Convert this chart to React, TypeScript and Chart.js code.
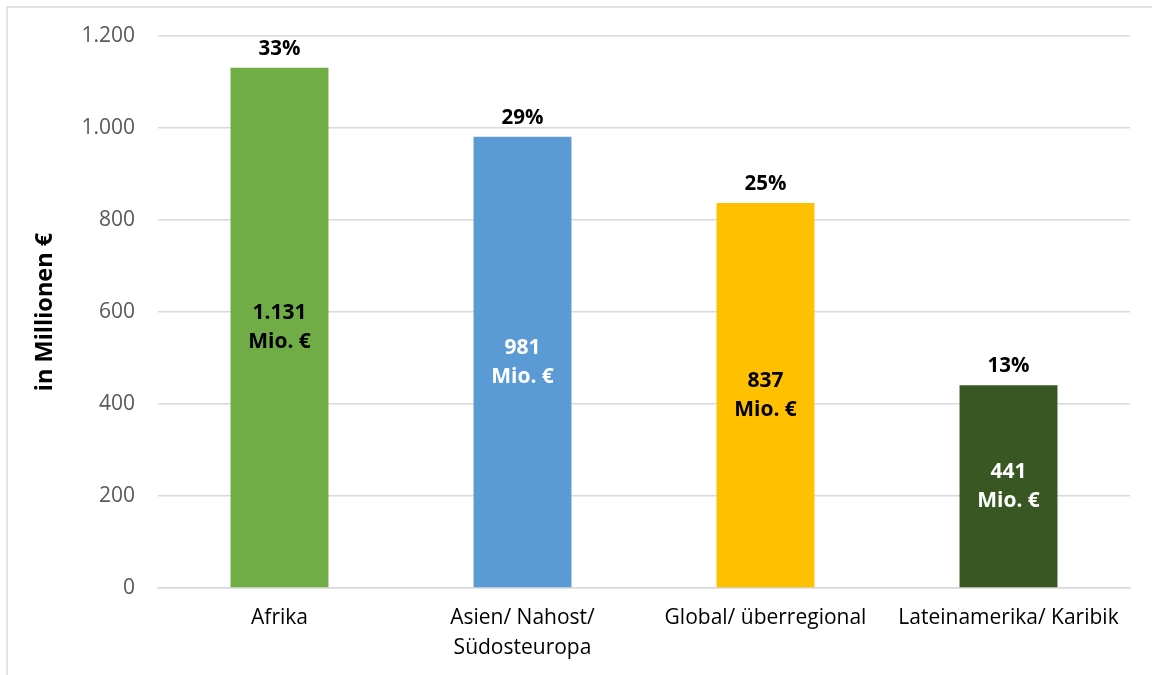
import React, { useEffect, useRef } from "react";
import { Chart, registerables } from "chart.js";

Chart.register(...registerables);

const categories: string[][] = [
  ["Afrika"],
  ["Asien/ Nahost/", "Südosteuropa"],
  ["Global/ überregional"],
  ["Lateinamerika/ Karibik"],
];
const values: number[] = [1131, 981, 837, 441];
const valueLabels: string[] = ["1.131", "981", "837", "441"];
const shareLabels: string[] = ["33%", "29%", "25%", "13%"];
const barColors: string[] = ["#70AD47", "#5B9BD5", "#FFC000", "#385723"];
const innerLabelColors: string[] = ["#000000", "#FFFFFF", "#000000", "#FFFFFF"];
const yAxisTitle = "in Millionen €";
const unitLabel = "Mio. €";
const yMax = 1200;
const yStep = 200;

const FONT = "'Open Sans', 'DejaVu Sans', sans-serif";

function formatDe(v: number): string {
  return String(Math.round(v)).replace(/\B(?=(\d{3})+(?!\d))/g, ".");
}

const decorPlugin = {
  id: "decor",
  beforeDraw(chart: any) {
    const ctx = chart.ctx;
    ctx.save();
    ctx.fillStyle = "#FFFFFF";
    ctx.fillRect(0, 0, chart.width, chart.height);
    ctx.strokeStyle = "#D9D9D9";
    ctx.lineWidth = 1.5;
    ctx.strokeRect(7, 7, chart.width + 20, chart.height + 20);
    ctx.restore();
  },
  afterDatasetsDraw(chart: any) {
    const ctx = chart.ctx;
    const meta = chart.getDatasetMeta(0);
    ctx.save();
    ctx.textAlign = "center";
    ctx.textBaseline = "middle";
    meta.data.forEach((bar: any, i: number) => {
      const x = bar.x;
      const top = bar.y;
      const base = bar.base;
      ctx.font = `bold 20.5px ${FONT}`;
      ctx.fillStyle = "#000000";
      ctx.fillText(shareLabels[i], x, top - 19);
      const mid = (top + base) / 2;
      ctx.font = `bold 21px ${FONT}`;
      ctx.fillStyle = innerLabelColors[i];
      ctx.fillText(valueLabels[i], x, mid - 14);
      ctx.fillText(unitLabel, x, mid + 15);
    });
    // y axis title
    const area = chart.chartArea;
    ctx.translate(45, (area.top + area.bottom) / 2);
    ctx.rotate(-Math.PI / 2);
    ctx.font = `bold 23.5px ${FONT}`;
    ctx.fillStyle = "#000000";
    ctx.fillText(yAxisTitle, 0, 0);
    ctx.restore();
  },
};

export default function App() {
  const canvasRef = useRef<HTMLCanvasElement | null>(null);

  useEffect(() => {
    if (!canvasRef.current) return;
    const chart = new Chart(canvasRef.current, {
      type: "bar",
      data: {
        labels: categories,
        datasets: [
          {
            data: values,
            backgroundColor: barColors,
            borderWidth: 0,
            categoryPercentage: 1,
            barPercentage: 0.403,
          },
        ],
      },
      options: {
        responsive: false,
        animation: false,
        devicePixelRatio: 1,
        layout: { padding: { top: 36, right: 22, left: 0, bottom: 0 } },
        plugins: {
          legend: { display: false },
          tooltip: { enabled: false },
          title: { display: false },
        },
        scales: {
          x: {
            grid: { display: false, drawTicks: false },
            border: { display: true, color: "#D9D9D9", width: 1.5 },
            ticks: {
              color: "#000000",
              font: { family: FONT, size: 21, lineHeight: 1.43 },
              padding: 15,
              maxRotation: 0,
              autoSkip: false,
            },
            afterFit(scale: any) {
              scale.height = 87;
            },
          },
          y: {
            min: 0,
            max: yMax,
            grid: { color: "#D9D9D9", lineWidth: 1.5, drawTicks: false },
            border: { display: false },
            ticks: {
              stepSize: yStep,
              color: "#595959",
              font: { family: FONT, size: 21 },
              padding: 23,
              callback: (v: any) => formatDe(Number(v)),
            },
            afterFit(scale: any) {
              scale.width = 158;
            },
          },
        },
      },
      plugins: [decorPlugin],
    });
    return () => chart.destroy();
  }, []);

  return (
    <div style={{ position: "fixed", left: 0, top: 0, width: 1152, height: 675, background: "#FFFFFF" }}>
      <canvas ref={canvasRef} width={1152} height={675} style={{ display: "block", width: 1152, height: 675 }} />
    </div>
  );
}
